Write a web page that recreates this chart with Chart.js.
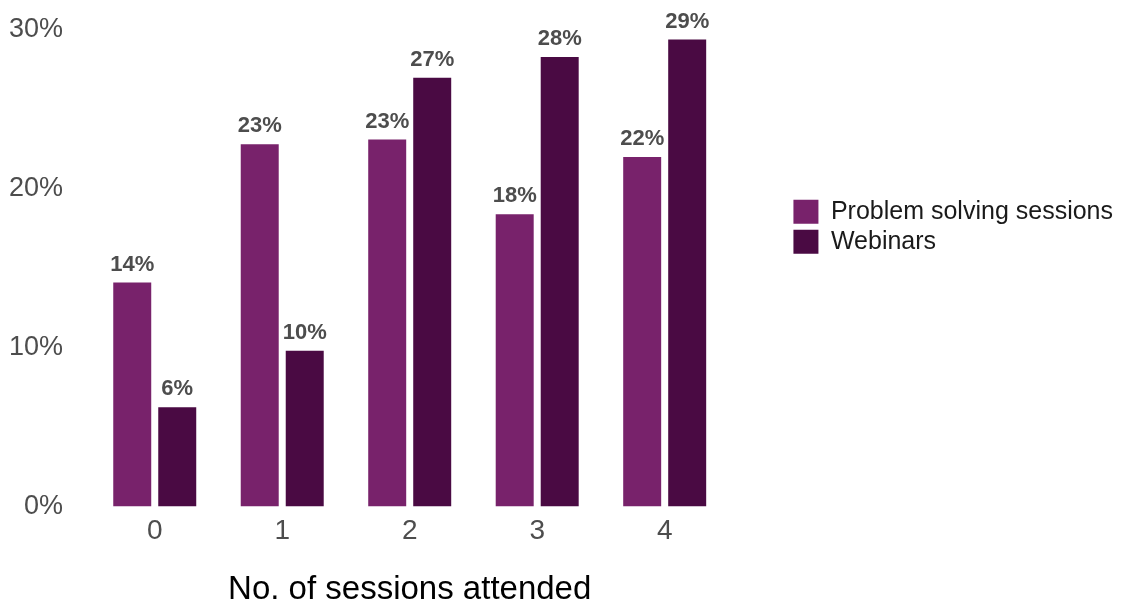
<!DOCTYPE html>
<html>
<head>
<meta charset="utf-8">
<script src="https://cdn.jsdelivr.net/npm/chart.js@4"></script>
<style>
  html, body { margin: 0; padding: 0; background: #ffffff; }
  #wrap { width: 1129px; height: 606px; }
</style>
</head>
<body>
<div id="wrap"><canvas id="grafico"></canvas></div>
<script>
// sessões atendidas (eixo x)
const sessoes = ['0', '1', '2', '3', '4'];
// percentuais por tipo de sessão
const problemSolving = [14.1, 22.8, 23.1, 18.4, 22.0];
const webinars = [6.25, 9.8, 27.0, 28.3, 29.4];
const ticksY = [0, 10, 20, 30];

const corPS = '#78226b';
const corWeb = '#4a0a43';
const fonte = '"Liberation Sans", Arial, Helvetica, sans-serif';

// rótulos de valor em cima de cada barra
const rotulosBarras = {
  id: 'rotulosBarras',
  afterDatasetsDraw(chart) {
    const ctx = chart.ctx;
    ctx.save();
    ctx.font = 'bold 22px ' + fonte;
    ctx.fillStyle = '#4d4d4d';
    ctx.textAlign = 'center';
    ctx.textBaseline = 'bottom';
    chart.data.datasets.forEach((ds, i) => {
      chart.getDatasetMeta(i).data.forEach((barra, j) => {
        ctx.fillText(Math.round(ds.data[j]) + '%', barra.x, barra.y - 7);
      });
    });
    ctx.restore();
  }
};

const ctx = document.getElementById('grafico').getContext('2d');

const grafico = new Chart(ctx, {
  type: 'bar',
  data: {
    labels: sessoes,
    datasets: [{
      label: 'Problem solving sessions',
      data: problemSolving,
      backgroundColor: corPS,
      categoryPercentage: 0.706,
      barPercentage: 0.844
    }, {
      label: 'Webinars',
      data: webinars,
      backgroundColor: corWeb,
      categoryPercentage: 0.706,
      barPercentage: 0.844
    }]
  },
  options: {
    responsive: true,
    maintainAspectRatio: false,
    animation: false,
    layout: { padding: { top: 30, left: 8, right: 6, bottom: 0 } },
    plugins: {
      tooltip: { enabled: false },
      legend: {
        position: 'right',
        align: 'start',
        maxWidth: 420,
        title: { display: true, text: ' ', font: { size: 1 }, padding: { top: 163, bottom: 0 } },
        labels: {
          boxWidth: 25,
          boxHeight: 24,
          padding: 5,
          color: '#1a1a1a',
          font: { family: fonte, size: 25 }
        }
      }
    },
    scales: {
      x: {
        grid: { display: false, drawTicks: false },
        border: { display: false },
        ticks: { color: '#4d4d4d', padding: 8, font: { family: fonte, size: 28 } },
        title: {
          display: true,
          text: 'No. of sessions attended',
          color: '#000000',
          padding: { top: 17, bottom: 0 },
          font: { family: fonte, size: 33, lineHeight: 1 }
        }
      },
      y: {
        min: 0,
        max: 30,
        afterBuildTicks(escala) {
          escala.ticks = ticksY.map(v => ({ value: v }));
        },
        // largura fixa do eixo e sem folga extra no topo
        afterFit(escala) {
          escala.width = 83;
          escala.paddingTop = 0;
        },
        grid: { display: false, drawTicks: false },
        border: { display: false },
        ticks: {
          color: '#4d4d4d',
          padding: 28,
          font: { family: fonte, size: 27 },
          callback: v => v + '%'
        }
      },
      // espaço vazio entre o gráfico e a legenda
      espaco: {
        position: 'right',
        display: true,
        min: 0,
        max: 1,
        grid: { display: false, drawTicks: false },
        border: { display: false },
        ticks: { display: false },
        afterFit(escala) { escala.width = 60; }
      }
    }
  },
  plugins: [rotulosBarras]
});
</script>
</body>
</html>
